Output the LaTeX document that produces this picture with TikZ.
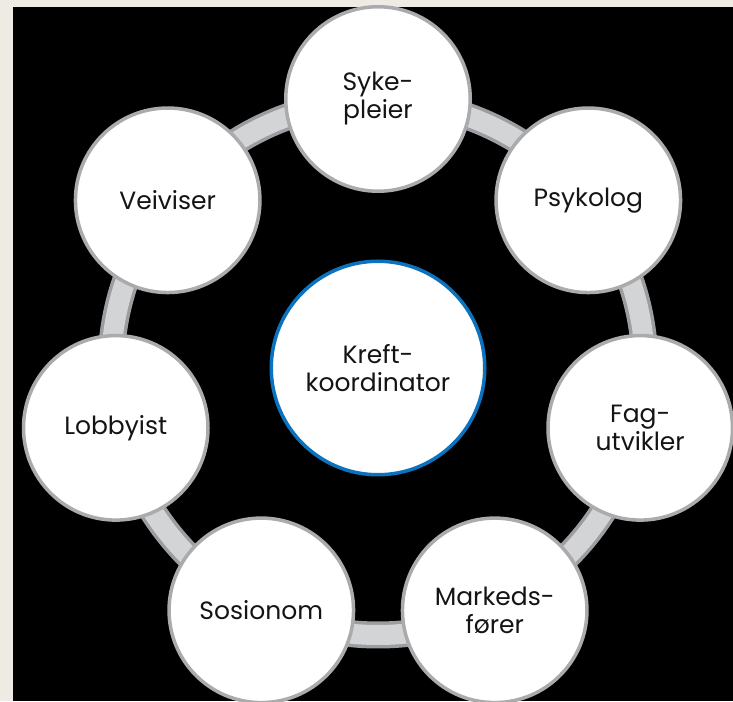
\documentclass[tikz,border=0pt]{standalone}
\usepackage{fontspec}
\setmainfont{Poppins}
\definecolor{paper}{HTML}{EEEAE4}
\definecolor{ringlight}{HTML}{D3D4D6}
\definecolor{ringdark}{HTML}{9C9DA0}
\definecolor{rolerim}{HTML}{ABABAD}
\definecolor{hubblue}{HTML}{0A72BE}
\definecolor{ink}{HTML}{141414}
\newcommand{\rolefont}{\fontsize{25}{28}\selectfont}
\begin{document}
\begin{tikzpicture}[x=1pt,y=1pt,
  role/.style={circle, draw=rolerim, line width=3.5pt, fill=white,
    minimum size=184.5pt, inner sep=0pt, align=center, text=ink, font=\rolefont},
  hub/.style={circle, draw=hubblue, line width=3.5pt, fill=white,
    minimum size=213.5pt, inner sep=0pt, align=center, text=ink, font=\rolefont},
  ringband/.style={draw=ringdark, line width=27pt},
  ringfill/.style={draw=ringlight, line width=20pt}]
  % page and dark panel
  \fill[paper] (0,0) rectangle (733,701);
  \fill[black] (13,0) rectangle (733,694);
  \useasboundingbox (0,0) rectangle (733,701);
  % the ring that carries the seven roles
  \coordinate (o) at (378,333);
  \draw[ringband] (o) circle[radius=267pt];
  \draw[ringfill] (o) circle[radius=267pt];
  % roles around the ring
  \node[role] (syke)  at ([shift={(90:269pt)}]o) {Syke-\\pleier};
  \node[role] (psyk)  at ([shift={(38.571:269pt)}]o) {Psykolog};
  \node[role] (fag)   at ([shift={(-12.857:269pt)}]o) {Fag-\\utvikler};
  \node[role] (mark)  at ([shift={(-64.286:269pt)}]o) {Markeds-\\fører};
  \node[role] (sos)   at ([shift={(-115.714:269pt)}]o) {Sosionom};
  \node[role] (lobby) at ([shift={(-167.143:269pt)}]o) {Lobbyist};
  \node[role] (veiv)  at ([shift={(141.429:269pt)}]o) {Veiviser};
  % the coordinator in the middle
  \node[hub] (kreft) at (o) {Kreft-\\koordinator};
\end{tikzpicture}
\end{document}
